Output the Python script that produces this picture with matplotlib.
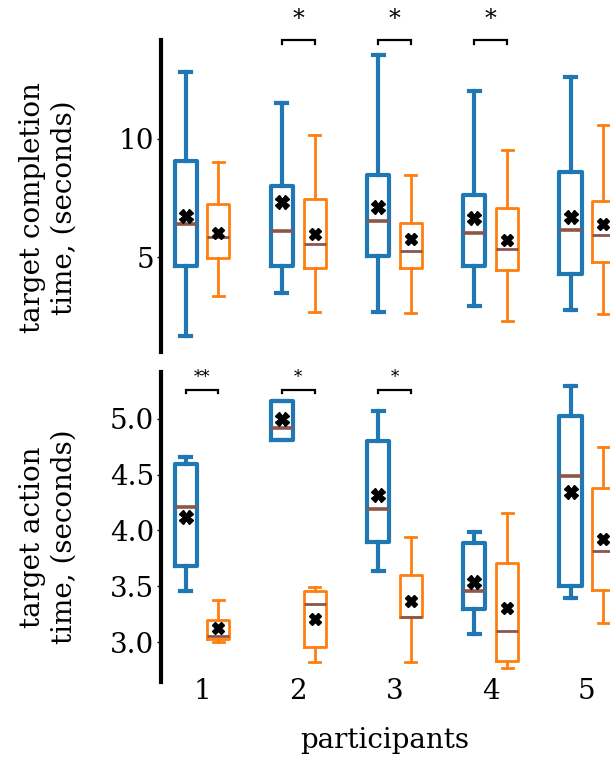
import matplotlib
matplotlib.use('Agg')
import matplotlib.pyplot as plt

participants = [1, 2, 3, 4, 5]
tick_labels = ['1', '2', '3', '4', '5']

# target completion time (seconds) - condition A (blue)
comp_a_whislo = [1.66, 3.48, 2.68, 2.95, 2.79]
comp_a_q1     = [4.65, 4.65, 5.04, 4.61, 4.27]
comp_a_med    = [6.41, 6.10, 6.55, 6.03, 6.16]
comp_a_q3     = [9.05, 7.99, 8.49, 7.65, 8.62]
comp_a_whishi = [12.81, 11.53, 13.55, 12.04, 12.63]
comp_a_mean   = [6.76, 7.32, 7.14, 6.66, 6.72]
# condition B (orange)
comp_b_whislo = [3.38, 2.68, 2.65, 2.30, 2.61]
comp_b_q1     = [4.96, 4.55, 4.55, 4.48, 4.79]
comp_b_med    = [5.84, 5.54, 5.27, 5.35, 5.95]
comp_b_q3     = [7.25, 7.45, 6.44, 7.09, 7.37]
comp_b_whishi = [9.01, 10.18, 8.49, 9.54, 10.60]
comp_b_mean   = [6.01, 5.99, 5.78, 5.73, 6.41]

# target action time (seconds) - condition A (blue)
act_a_whislo = [3.46, 4.81, 3.64, 3.07, 3.40]
act_a_q1     = [3.68, 4.81, 3.90, 3.30, 3.50]
act_a_med    = [4.21, 4.92, 4.19, 3.46, 4.49]
act_a_q3     = [4.59, 5.16, 4.80, 3.89, 5.02]
act_a_whishi = [4.66, 5.16, 5.07, 3.99, 5.29]
act_a_mean   = [4.12, 5.00, 4.32, 3.54, 4.34]
# condition B (orange)
act_b_whislo = [3.00, 2.82, 2.82, 2.77, 3.17]
act_b_q1     = [3.03, 2.96, 3.23, 2.83, 3.47]
act_b_med    = [3.06, 3.34, 3.23, 3.10, 3.82]
act_b_q3     = [3.20, 3.46, 3.60, 3.71, 4.38]
act_b_whishi = [3.38, 3.49, 3.94, 4.16, 4.75]
act_b_mean   = [3.13, 3.21, 3.37, 3.31, 3.92]

# significance annotations
comp_sig_participants = [2, 3, 4]
comp_sig_labels = ['*', '*', '*']
act_sig_participants = [1, 2, 3]
act_sig_labels = ['**', '*', '*']

BLUE = '#1f77b4'
ORANGE = '#ff7f0e'
BROWN = '#8c564b'

plt.rcParams['font.family'] = ['DejaVu Serif']


def make_stats(wlo, q1, med, q3, whi, mean):
    return [dict(whislo=a, q1=b, med=c, q3=d, whishi=e, mean=f, fliers=[])
            for a, b, c, d, e, f in zip(wlo, q1, med, q3, whi, mean)]


def draw(ax, stats_a, stats_b):
    off = 0.17
    w = 0.23
    pa = [p - off for p in participants]
    pb = [p + off for p in participants]
    ax.bxp(stats_a, positions=pa, widths=w, showmeans=True, showfliers=False,
           boxprops=dict(color=BLUE, linewidth=3),
           whiskerprops=dict(color=BLUE, linewidth=3),
           capprops=dict(color=BLUE, linewidth=3),
           medianprops=dict(color=BROWN, linewidth=2.6),
           meanprops=dict(marker='X', markerfacecolor='black',
                          markeredgecolor='black', markersize=10))
    ax.bxp(stats_b, positions=pb, widths=w, showmeans=True, showfliers=False,
           boxprops=dict(color=ORANGE, linewidth=2),
           whiskerprops=dict(color=ORANGE, linewidth=2),
           capprops=dict(color=ORANGE, linewidth=2),
           medianprops=dict(color=BROWN, linewidth=2),
           meanprops=dict(marker='X', markerfacecolor='black',
                          markeredgecolor='black', markersize=8))


def brackets(ax, parts, labels, y, leg, ys, fs):
    off = 0.17
    for p, lab in zip(parts, labels):
        ax.plot([p - off, p - off, p + off, p + off], [y - leg, y, y, y - leg],
                color='black', linewidth=1.6, clip_on=False,
                solid_joinstyle='miter')
        ax.text(p, ys, lab, ha='center', va='center', fontsize=fs,
                clip_on=False)


fig = plt.figure(figsize=(6.1, 7.6), dpi=100)
ax1 = fig.add_axes([0.264, 0.537, 0.736, 0.411])
ax2 = fig.add_axes([0.264, 0.102, 0.736, 0.409])

draw(ax1, make_stats(comp_a_whislo, comp_a_q1, comp_a_med, comp_a_q3, comp_a_whishi, comp_a_mean),
     make_stats(comp_b_whislo, comp_b_q1, comp_b_med, comp_b_q3, comp_b_whishi, comp_b_mean))
draw(ax2, make_stats(act_a_whislo, act_a_q1, act_a_med, act_a_q3, act_a_whishi, act_a_mean),
     make_stats(act_b_whislo, act_b_q1, act_b_med, act_b_q3, act_b_whishi, act_b_mean))

for ax in (ax1, ax2):
    ax.set_xlim(0.574, 5.24)
    for s in ('top', 'right', 'bottom'):
        ax.spines[s].set_visible(False)
    ax.spines['left'].set_linewidth(3)
    ax.tick_params(axis='y', labelsize=20, length=3, width=1, pad=2)
    ax.set_facecolor('none')

ax1.set_ylim(1.0, 14.2)
ax1.set_yticks([5, 10])
ax1.set_yticklabels(['5', '10'])
ax1.set_xticks([])

ax2.set_ylim(2.64, 5.42)
ax2.set_yticks([3.0, 3.5, 4.0, 4.5, 5.0])
ax2.set_yticklabels(['3.0', '3.5', '4.0', '4.5', '5.0'])
ax2.set_xticks(participants)
ax2.set_xticklabels(tick_labels)
ax2.tick_params(axis='x', length=0, labelsize=20, pad=-3.5)

brackets(ax1, comp_sig_participants, comp_sig_labels, 14.18, 0.15, 15.05, 17)
brackets(ax2, act_sig_participants, act_sig_labels, 5.26, 0.035, 5.365, 12)

fig.text(48.5 / 610, 1 - 208 / 760, 'target completion\ntime, (seconds)',
         rotation=90, ha='center', va='center', multialignment='center',
         fontsize=20)
fig.text(48.5 / 610, 1 - 537 / 760, 'target action\ntime, (seconds)',
         rotation=90, ha='center', va='center', multialignment='center',
         fontsize=20)
fig.text(385 / 610, 1 - 741 / 760, 'participants', ha='center', va='center',
         fontsize=20)

fig.savefig('out.png', dpi=100)
